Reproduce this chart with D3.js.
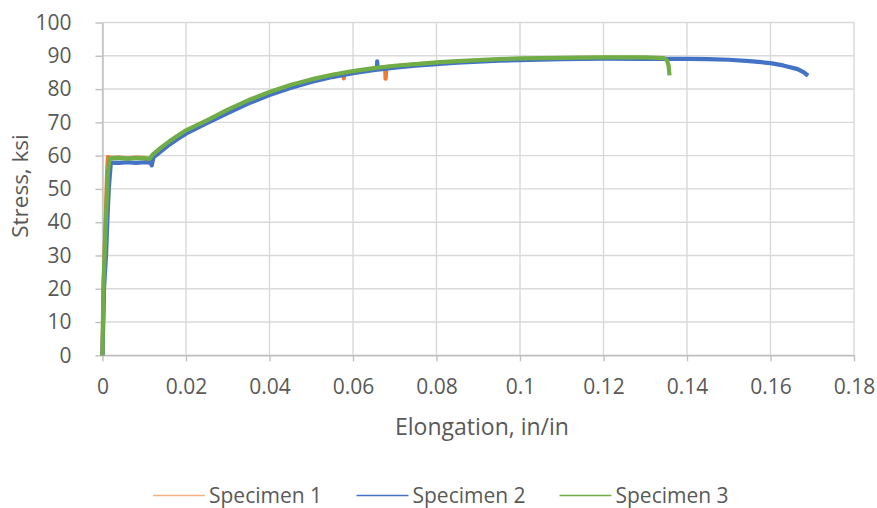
<!DOCTYPE html>
<html>
<head>
<meta charset="utf-8">
<script src="https://cdn.jsdelivr.net/npm/d3@7/dist/d3.min.js"></script>
<style>
  html, body { margin: 0; padding: 0; background: #ffffff; }
  svg { display: block; font-family: "Open Sans", "Noto Sans", sans-serif; }
</style>
</head>
<body>
<svg id="chart" width="877" height="508"></svg>
<script>
// Tensile test curves: [elongation (in/in), stress (ksi)]
const specimen1 = [
  [0, 0], [0.0003, 22], [0.0008, 42], [0.0011, 55], [0.0013, 59.6],
  [0.002, 59.3], [0.004, 59.4], [0.006, 59.2], [0.008, 59.4], [0.010, 59.3],
  [0.0112, 58.0], [0.0118, 59.6], [0.014, 62.0], [0.016, 64.0], [0.018, 65.7],
  [0.02, 67.3], [0.025, 70.4], [0.03, 73.5], [0.035, 76.4], [0.04, 78.9],
  [0.045, 81.0], [0.05, 82.7], [0.055, 84.1], [0.0577, 84.7], [0.0578, 83.2],
  [0.0579, 84.8], [0.06, 85.2], [0.065, 86.1], [0.0677, 86.5], [0.0678, 83.1],
  [0.0680, 86.6], [0.07, 86.8], [0.075, 87.4], [0.08, 87.8], [0.085, 88.2],
  [0.09, 88.5], [0.1, 89.0], [0.11, 89.3], [0.12, 89.4], [0.13, 89.3], [0.133, 89.2]
];

const specimen2 = [
  [0, 0], [0.00036, 20], [0.00084, 30], [0.00115, 40], [0.0015, 50], [0.002, 57.9],
  [0.004, 57.8], [0.006, 58.0], [0.008, 57.8], [0.010, 58.0], [0.0115, 57.9],
  [0.0118, 57.1], [0.0122, 59.5], [0.014, 61.3], [0.016, 63.3], [0.018, 65.0],
  [0.02, 66.6], [0.025, 69.8], [0.03, 72.8], [0.035, 75.7], [0.04, 78.2],
  [0.045, 80.3], [0.05, 82.1], [0.055, 83.6], [0.06, 84.8], [0.0657, 85.8],
  [0.0658, 88.3], [0.0659, 85.8], [0.07, 86.4], [0.075, 87.0], [0.08, 87.5],
  [0.085, 87.9], [0.09, 88.2], [0.095, 88.5], [0.1, 88.7], [0.11, 89.0],
  [0.12, 89.1], [0.13, 89.1], [0.14, 89.1], [0.145, 89.0], [0.15, 88.8],
  [0.155, 88.4], [0.16, 87.8], [0.163, 87.1], [0.1665, 86.0], [0.168, 85.0], [0.169, 84.0]
];

const specimen3 = [
  [0, 0], [0.0002, 20], [0.0008, 40], [0.0013, 55], [0.0017, 59.2],
  [0.004, 59.3], [0.006, 59.1], [0.008, 59.3], [0.010, 59.2], [0.0114, 59.2],
  [0.012, 60.3], [0.014, 62.4], [0.016, 64.3], [0.018, 66.0], [0.02, 67.6],
  [0.025, 70.6], [0.03, 73.8], [0.035, 76.7], [0.04, 79.1], [0.045, 81.2],
  [0.05, 82.9], [0.055, 84.3], [0.06, 85.4], [0.065, 86.3], [0.07, 87.0],
  [0.075, 87.5], [0.08, 88.0], [0.085, 88.4], [0.09, 88.7], [0.095, 89.0],
  [0.1, 89.2], [0.11, 89.4], [0.12, 89.5], [0.13, 89.5], [0.1345, 89.3],
  [0.1352, 88.6], [0.1356, 87.0], [0.1358, 84.1]
];

const seriesNames = ["Specimen 1", "Specimen 2", "Specimen 3"];
const seriesColors = ["#ED7D31", "#4472C4", "#70AD47"];
const legendColors = ["#F4B183", "#4472C4", "#70AD47"];
const xTicks = [0, 0.02, 0.04, 0.06, 0.08, 0.1, 0.12, 0.14, 0.16, 0.18];
const yTicks = [0, 10, 20, 30, 40, 50, 60, 70, 80, 90, 100];

const W = 877, H = 508;
const margin = { left: 102.5, right: 23, top: 22.5, bottom: 152.7 };
const svg = d3.select("#chart");

const x = d3.scaleLinear().domain([0, 0.18]).range([margin.left, W - margin.right]);
const y = d3.scaleLinear().domain([0, 100]).range([H - margin.bottom, margin.top]);

const textColor = "#595959";
const gridColor = "#d9d9d9";

// Gridlines
const grid = svg.append("g");
grid.selectAll("line.h").data(yTicks).join("line")
  .attr("x1", x(0)).attr("x2", x(0.18))
  .attr("y1", d => y(d)).attr("y2", d => y(d))
  .attr("stroke", gridColor).attr("stroke-width", 1.4);
grid.selectAll("line.v").data(xTicks).join("line")
  .attr("x1", d => x(d)).attr("x2", d => x(d))
  .attr("y1", y(0)).attr("y2", y(100))
  .attr("stroke", gridColor).attr("stroke-width", 1.4);

// Axes
const fmtX = d => String(+d.toFixed(2));
const xAxis = svg.append("g")
  .attr("transform", `translate(0,${y(0)})`)
  .call(d3.axisBottom(x).tickValues(xTicks).tickFormat(fmtX).tickSizeInner(6).tickSizeOuter(0).tickPadding(18));
const yAxis = svg.append("g")
  .attr("transform", `translate(${x(0)},0)`)
  .call(d3.axisLeft(y).tickValues(yTicks).tickSizeInner(7).tickSizeOuter(0).tickPadding(24));

[xAxis, yAxis].forEach(g => {
  g.select(".domain").attr("stroke", "#bfbfbf").attr("stroke-width", 1.4);
  g.selectAll(".tick line").attr("stroke", "#bfbfbf").attr("stroke-width", 1.4);
  g.selectAll(".tick text")
    .attr("fill", textColor)
    .style("font-family", '"Open Sans", sans-serif')
    .style("font-size", "21px");
});

// Series
const line = d3.line().x(d => x(d[0])).y(d => y(d[1]));
const allSeries = [specimen1, specimen2, specimen3];
svg.append("g").selectAll("path").data(allSeries).join("path")
  .attr("d", line)
  .attr("fill", "none")
  .attr("stroke", (d, i) => seriesColors[i])
  .attr("stroke-width", 4.2)
  .attr("stroke-linejoin", "round")
  .attr("stroke-linecap", "butt");

// Axis titles
svg.append("text")
  .attr("x", 482).attr("y", 435)
  .attr("text-anchor", "middle")
  .attr("fill", textColor)
  .style("font-size", "23px")
  .text("Elongation, in/in");

svg.append("text")
  .attr("transform", "translate(28,186) rotate(-90)")
  .attr("text-anchor", "middle")
  .attr("fill", textColor)
  .style("font-size", "22.5px")
  .text("Stress, ksi");

// Legend
const legendX = [153, 356.5, 559.5];
const legend = svg.append("g");
seriesNames.forEach((name, i) => {
  legend.append("line")
    .attr("x1", legendX[i]).attr("x2", legendX[i] + 52)
    .attr("y1", 495.5).attr("y2", 495.5)
    .attr("stroke", legendColors[i]).attr("stroke-width", 1.6);
  legend.append("text")
    .attr("x", legendX[i] + 56).attr("y", 502.5)
    .attr("fill", textColor)
    .style("font-size", "21px")
    .text(name);
});
</script>
</body>
</html>
